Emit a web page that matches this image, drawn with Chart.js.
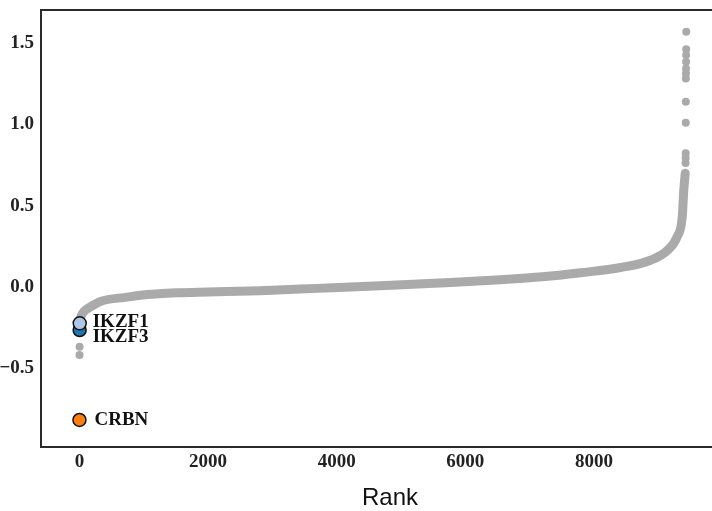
<!DOCTYPE html>
<html>
<head>
<meta charset="utf-8">
<script src="https://cdn.jsdelivr.net/npm/chart.js@4/dist/chart.umd.min.js"></script>
<style>
    html, body { margin: 0; padding: 0; background: #fff; overflow: hidden; }
    #wrap { width: 712px; height: 511px; overflow: hidden; }
</style>
</head>
<body>
<div id="wrap"><canvas id="rankChart" width="747" height="511"></canvas></div>
<script>
// Curva ordenada dos genes (rank, score)
const curveRanks  = [5, 30, 70, 145, 327, 742, 949, 1519, 2000, 2815, 3700, 4681, 5600, 6547, 7200, 7792, 8414, 8880, 9140, 9295, 9373, 9398, 9420];
const curveScores = [-0.21, -0.175, -0.15, -0.128, -0.088, -0.062, -0.05, -0.035, -0.03, -0.022, -0.008, 0.008, 0.025, 0.045, 0.063, 0.088, 0.12, 0.165, 0.225, 0.31, 0.43, 0.6, 0.70];

// Pontos isolados nas caudas
const tailRanks  = [1, 2, 9425, 9426, 9427, 9428, 9429, 9430, 9431, 9432, 9433, 9434, 9435, 9436];
const tailScores = [-0.418, -0.367, 0.762, 0.793, 0.822, 1.010, 1.139, 1.282, 1.313, 1.344, 1.385, 1.426, 1.461, 1.569];

// Genes destacados
const geneNames  = ['IKZF1', 'IKZF3', 'CRBN'];
const geneRanks  = [4, 3, 0];
const geneScores = [-0.223, -0.264, -0.817];
const geneColors = ['#aec7e8', '#1f77b4', '#ff7f0e'];

// Ticks
const xTicks = [0, 2000, 4000, 6000, 8000];
const yTicks = [-0.5, 0.0, 0.5, 1.0, 1.5];

const cinza = '#aaaaaa';
const fonteTicks = { family: "'Liberation Serif', 'Times New Roman', serif", size: 19, weight: 'bold' };

// Moldura do gráfico
const moldura = {
    id: 'moldura',
    afterDraw(chart) {
        const { ctx, chartArea: a } = chart;
        ctx.save();
        ctx.strokeStyle = '#2b2b2b';
        ctx.lineWidth = 2;
        ctx.strokeRect(a.left, a.top, a.right - a.left, a.bottom - a.top);
        ctx.restore();
    }
};

// Rótulos dos genes destacados
const deslocamentos = [[13, -1], [13, 7], [15, 0]];
const rotulos = {
    id: 'rotulos',
    afterDatasetsDraw(chart) {
        const { ctx, scales } = chart;
        ctx.save();
        ctx.font = "bold 19px 'Liberation Serif', 'Times New Roman', serif";
        ctx.fillStyle = '#111';
        ctx.textBaseline = 'middle';
        ctx.textAlign = 'left';
        geneNames.forEach((nome, i) => {
            const px = scales.x.getPixelForValue(geneRanks[i]) + deslocamentos[i][0];
            const py = scales.y.getPixelForValue(geneScores[i]) + deslocamentos[i][1];
            ctx.fillText(nome, px, py);
        });
        ctx.restore();
    }
};

const genesDestacados = geneNames.map((nome, i) => ({
    label: nome,
    data: [{ x: geneRanks[i], y: geneScores[i] }],
    backgroundColor: geneColors[i],
    borderColor: '#111',
    borderWidth: 1.5,
    pointRadius: 6.5,
    order: i
}));

new Chart(document.getElementById('rankChart'), {
    type: 'scatter',
    data: {
        datasets: [
            ...genesDestacados,
            {
                label: 'caudas',
                data: tailRanks.map((r, i) => ({ x: r, y: tailScores[i] })),
                backgroundColor: cinza,
                borderWidth: 0,
                pointRadius: 4,
                order: 5
            },
            {
                label: 'genes',
                data: curveRanks.map((r, i) => ({ x: r, y: curveScores[i] })),
                showLine: true,
                borderColor: cinza,
                borderWidth: 9,
                borderCapStyle: 'round',
                borderJoinStyle: 'round',
                cubicInterpolationMode: 'monotone',
                pointRadius: 0,
                order: 6
            }
        ]
    },
    options: {
        responsive: false,
        animation: false,
        layout: { padding: { top: 10, right: 1, left: 0, bottom: 0 } },
        plugins: {
            legend: { display: false },
            tooltip: { enabled: false }
        },
        scales: {
            x: {
                type: 'linear',
                min: -598,
                max: 10256,
                grid: { display: false, drawTicks: false },
                border: { display: false },
                afterBuildTicks: s => { s.ticks = xTicks.map(v => ({ value: v })); },
                afterFit: s => { s.height = 64; s.paddingLeft = 0; s.paddingRight = 0; },
                ticks: {
                    font: fonteTicks,
                    color: '#222',
                    padding: 4,
                    maxRotation: 0,
                    callback: v => String(v)
                },
                title: {
                    display: true,
                    text: 'Rank',
                    color: '#111',
                    font: { family: "'Liberation Sans', Arial, sans-serif", size: 24, lineHeight: 1 },
                    padding: { top: 0, bottom: 1 }
                }
            },
            y: {
                type: 'linear',
                min: -0.983,
                max: 1.703,
                grid: { display: false, drawTicks: false },
                border: { display: false },
                afterBuildTicks: s => { s.ticks = yTicks.map(v => ({ value: v })); },
                afterFit: s => { s.width = 41; s.paddingTop = 0; s.paddingBottom = 0; },
                ticks: {
                    font: fonteTicks,
                    color: '#222',
                    padding: 7,
                    callback: v => v.toFixed(1).replace('-', '\u2212')
                }
            }
        }
    },
    plugins: [moldura, rotulos]
});
</script>
</body>
</html>
